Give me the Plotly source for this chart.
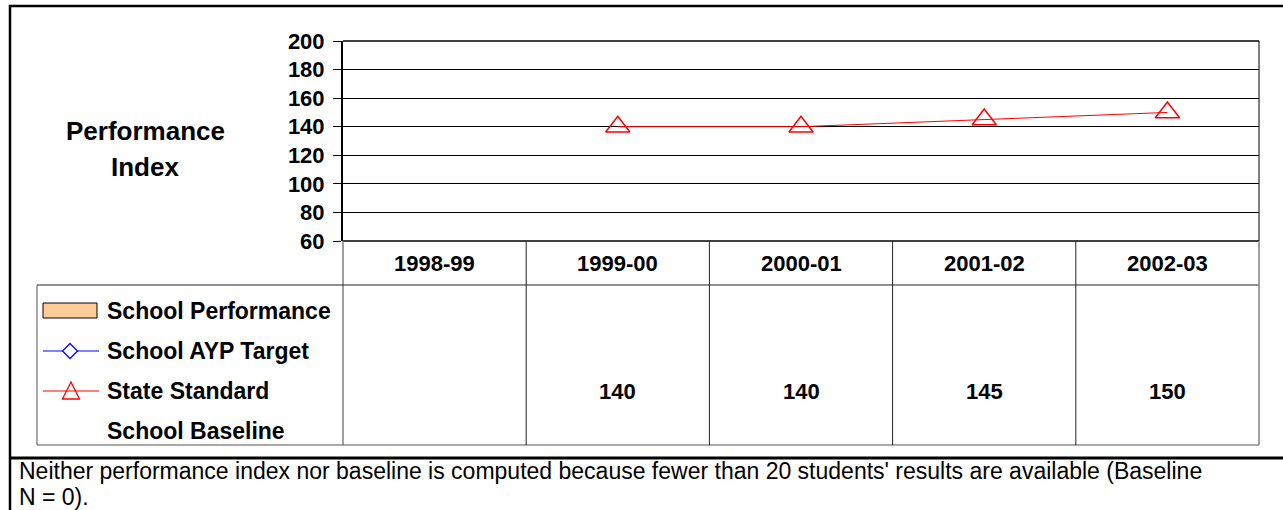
import plotly.graph_objects as go

W, H = 1283, 510

# ---------------- data ----------------
years = ["1998-99", "1999-00", "2000-01", "2001-02", "2002-03"]
school_performance = [None, None, None, None, None]
school_ayp_target = [None, None, None, None, None]
state_standard = [None, 140, 140, 145, 150]
school_baseline = [None, None, None, None, None]
series_names = ["School Performance", "School AYP Target", "State Standard", "School Baseline"]
series_values = [school_performance, school_ayp_target, state_standard, school_baseline]
y_ticks = [60, 80, 100, 120, 140, 160, 180, 200]
y_title_lines = ["Performance", "Index"]
note_lines = [
    "Neither performance index nor baseline is computed because fewer than 20 students' "
    "results are available (Baseline",
    "N = 0).",
]

# ---------------- layout helpers (pixels -> paper) ----------------
def fx(x):
    return x / W

def fy(y):
    return 1 - y / H

PL, PR, PT, PB = 343, 1259, 41, 241      # plot area
TL = 37                                   # table left edge (legend column)
T_HEAD = 285                              # header row bottom
T_BOT = 445                               # table bottom
row_y = [311, 351, 391, 431]              # legend rows

FONT = "Liberation Sans, Arial, sans-serif"
BOLD = dict(family=FONT, size=22, color="black", weight="bold")

fig = go.Figure()

fig.add_trace(go.Scatter(
    x=list(range(len(years))), y=state_standard,
    mode="lines+markers",
    line=dict(color="red", width=1),
    marker=dict(symbol="triangle-up-open", size=21, color="red", line=dict(width=1.5, color="red")),
    showlegend=False, cliponaxis=False, hoverinfo="skip",
))

shapes = []
annotations = []

def hline(x0, x1, y, color, width):
    shapes.append(dict(type="line", xref="paper", yref="paper", x0=fx(x0), x1=fx(x1), y0=fy(y), y1=fy(y),
                       line=dict(color=color, width=width)))

def vline(x, y0, y1, color, width):
    shapes.append(dict(type="line", xref="paper", yref="paper", x0=fx(x), x1=fx(x), y0=fy(y0), y1=fy(y1),
                       line=dict(color=color, width=width)))

# outer frame
vline(10, 5, 515, "black", 2.5)
hline(9, 1290, 6, "black", 2.5)
hline(9, 1290, 458, "black", 3)

# plot-area borders
hline(PL, PR, PT, "black", 1.5)
vline(PR, PT, PB, "black", 1)
hline(PL, PR, PB, "black", 1.5)

# table lines
TC = "#555555"
vline(PL, PB, T_BOT, "#808080", 1.5)
hline(TL, PR, T_HEAD, "#222222", 1)
hline(TL, PR, T_BOT, TC, 1)
vline(TL, T_HEAD, T_BOT, TC, 1)
vline(PR, PB, T_BOT, "#808080", 1.5)
for i in range(1, len(years)):
    shapes.append(dict(type="line", xref="x", yref="paper", x0=i - 0.5, x1=i - 0.5, y0=fy(PB), y1=fy(T_BOT),
                       line=dict(color="#222222", width=1)))

# header labels
for i, yr in enumerate(years):
    annotations.append(dict(x=i, y=fy(263), xref="x", yref="paper", text=yr, showarrow=False,
                            font=BOLD, xanchor="center", yanchor="middle"))

# legend glyphs
shapes.append(dict(type="rect", xref="paper", yref="paper", x0=fx(43), x1=fx(97), y0=fy(303), y1=fy(318),
                   fillcolor="#FFCC99", line=dict(color="black", width=1)))
hline(43, 99, row_y[1], "blue", 1)
cx, cy, r = 70, row_y[1], 7.5
shapes.append(dict(type="path", xref="paper", yref="paper",
                   path=f"M {fx(cx)},{fy(cy - r)} L {fx(cx + r)},{fy(cy)} L {fx(cx)},{fy(cy + r)} L {fx(cx - r)},{fy(cy)} Z",
                   fillcolor="white", line=dict(color="blue", width=1.3)))
hline(43, 99, row_y[2], "red", 1)
cx, cy = 71, row_y[2]
shapes.append(dict(type="path", xref="paper", yref="paper",
                   path=f"M {fx(cx)},{fy(cy - 9)} L {fx(cx + 8.5)},{fy(cy + 8)} L {fx(cx - 8.5)},{fy(cy + 8)} Z",
                   line=dict(color="red", width=1.3)))

# legend labels and row values
for name, vals, ry in zip(series_names, series_values, row_y):
    annotations.append(dict(x=fx(105), y=fy(ry), xref="paper", yref="paper", text=name, showarrow=False,
                            font=dict(family=FONT, size=23, color="black", weight="bold"),
                            xanchor="left", yanchor="middle"))
    for i, v in enumerate(vals):
        if v is not None:
            annotations.append(dict(x=i, y=fy(ry), xref="x", yref="paper", text=f"{v:g}", showarrow=False,
                                    font=BOLD, xanchor="center", yanchor="middle"))

# y-axis title
for line, ly in zip(y_title_lines, [131, 167]):
    annotations.append(dict(x=fx(145), y=fy(ly), xref="paper", yref="paper", text=line, showarrow=False,
                            font=dict(family=FONT, size=26, color="black", weight="bold"),
                            xanchor="center", yanchor="middle"))

# bottom note
for line, ly in zip(note_lines, [471, 497]):
    annotations.append(dict(x=fx(18), y=fy(ly), xref="paper", yref="paper", text=line, showarrow=False,
                            font=dict(family=FONT, size=23, color="black"),
                            xanchor="left", yanchor="middle", borderpad=0))

fig.update_layout(
    width=W, height=H, autosize=False,
    margin=dict(l=0, r=0, t=0, b=0, pad=0, autoexpand=False),
    paper_bgcolor="white", plot_bgcolor="white",
    xaxis=dict(domain=[fx(PL), fx(PR)], range=[-0.5, len(years) - 0.5], showticklabels=False,
               showgrid=False, zeroline=False, showline=False, ticks="", automargin=False),
    yaxis=dict(domain=[fy(PB), fy(PT)], range=[60, 200], tickvals=y_ticks,
               showgrid=True, gridcolor="black", gridwidth=1, zeroline=False,
               showline=True, linecolor="black", linewidth=2,
               ticks="outside", ticklen=8, tickcolor="black", tickwidth=1,
               tickfont=BOLD, ticklabelstandoff=4, automargin=False),
    shapes=shapes, annotations=annotations,
)

fig.write_html(
    "out.html",
    config={"displayModeBar": False},
    post_script=("document.body.style.margin='0';document.body.style.overflow='hidden';"
                 "document.documentElement.style.overflow='hidden';"),
)
